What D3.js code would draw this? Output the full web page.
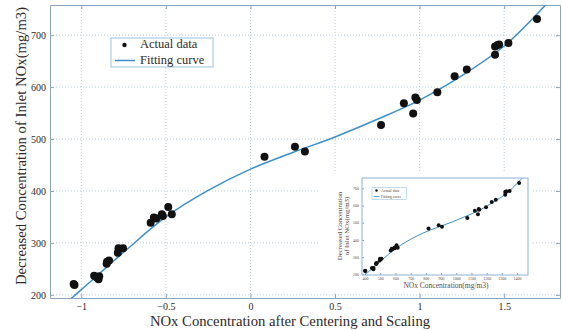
<!DOCTYPE html>
<html>
<head>
<meta charset="utf-8">
<script src="https://cdn.jsdelivr.net/npm/d3@7"></script>
<style>
  body { margin: 0; background: #fff; }
  svg { display: block; font-family: "Liberation Serif", "DejaVu Serif", serif; }
</style>
</head>
<body>
<svg id="chart" width="562" height="330"></svg>
<script>
// scaled NOx (x) vs decreased inlet NOx (y)
const scaledX = [-1.045, -1.04, -0.924, -0.894, -0.898, -0.91, -0.85, -0.848, -0.836,
  -0.784, -0.78, -0.753, -0.59, -0.571, -0.556, -0.524, -0.518, -0.486, -0.465,
  0.083, 0.263, 0.322, 0.772, 0.907, 0.962, 0.975, 0.984, 1.105, 1.207, 1.279,
  1.446, 1.446, 1.461, 1.47, 1.525, 1.694];
const decreasedNOx = [221, 219, 237, 236, 230, 234, 260, 264, 266,
  281, 290, 290, 339, 349, 347, 355, 352, 369, 355,
  466, 485, 476, 527, 569, 549, 580, 575, 590, 621, 634,
  662, 678, 681, 682, 685, 731];

// fitting curve
const curveX = [-1.06, -1.0, -0.75, -0.5, -0.25, 0, 0.25, 0.5, 0.75, 1.0, 1.25, 1.5, 1.75];
const curveY = [193, 210, 282, 350, 401, 442, 474, 504, 538, 575, 622, 679, 760];

const xTicks = [-1, -0.5, 0, 0.5, 1, 1.5];
const yTicks = [200, 300, 400, 500, 600, 700];

// inset uses raw concentration (mg/m3)
const noxMean = 787, noxStd = 370;
const insetXTicks = [400, 500, 600, 700, 800, 900, 1000, 1100, 1200, 1300, 1400];
const insetYTicks = [200, 300, 400, 500, 600, 700];

const svg = d3.select('#chart');
const frameColor = '#8da6bf';
const gridColor = '#bccfe0';
const textColor = '#2f2a2a';
const insetText = '#5a4a44';
const lineColor = '#3f90c9';

const pts = scaledX.map((x, i) => ({ x: x, y: decreasedNOx[i] }));
const fit = curveX.map((x, i) => ({ x: x, y: curveY[i] }));

// ---------- main plot ----------
const m = { left: 50, right: 560, top: 5, bottom: 298 };
const x = d3.scaleLinear().domain([-1.185, 1.83]).range([m.left, m.right]);
const y = d3.scaleLinear().domain([194, 758]).range([m.bottom, m.top]);

const defs = svg.append('defs');
defs.append('clipPath').attr('id', 'clipMain')
  .append('rect').attr('x', m.left).attr('y', m.top)
  .attr('width', m.right - m.left).attr('height', m.bottom - m.top);

const grid = svg.append('g');
grid.selectAll('.gx').data(xTicks).enter().append('line')
  .attr('x1', d => x(d)).attr('x2', d => x(d))
  .attr('y1', m.top).attr('y2', m.bottom)
  .attr('stroke', gridColor).attr('stroke-dasharray', '1,2');
grid.selectAll('.gy').data(yTicks).enter().append('line')
  .attr('x1', m.left).attr('x2', m.right)
  .attr('y1', d => y(d)).attr('y2', d => y(d))
  .attr('stroke', gridColor).attr('stroke-dasharray', '1,2');

// axes with inward ticks, box all round
const xAxis = svg.append('g').attr('transform', 'translate(0,' + m.bottom + ')')
  .call(d3.axisBottom(x).tickValues(xTicks).tickSizeInner(-4).tickSizeOuter(0).tickPadding(5)
    .tickFormat(d3.format('')));
const yAxis = svg.append('g').attr('transform', 'translate(' + m.left + ',0)')
  .call(d3.axisLeft(y).tickValues(yTicks).tickSizeInner(-4).tickSizeOuter(0).tickPadding(4));
const xTop = svg.append('g').attr('transform', 'translate(0,' + m.top + ')')
  .call(d3.axisTop(x).tickValues(xTicks).tickSizeInner(-4).tickSizeOuter(0).tickFormat(''));
const yRight = svg.append('g').attr('transform', 'translate(' + m.right + ',0)')
  .call(d3.axisRight(y).tickValues(yTicks).tickSizeInner(-4).tickSizeOuter(0).tickFormat(''));

[xAxis, yAxis, xTop, yRight].forEach(g => {
  g.select('.domain').attr('stroke', frameColor);
  g.selectAll('.tick line').attr('stroke', frameColor);
  g.selectAll('.tick text').attr('fill', textColor)
    .style('font-family', '"Liberation Serif", serif').style('font-size', '10px');
});

const line = d3.line().x(d => x(d.x)).y(d => y(d.y)).curve(d3.curveCatmullRom);
svg.append('path').datum(fit)
  .attr('clip-path', 'url(#clipMain)')
  .attr('d', line).attr('fill', 'none')
  .attr('stroke', lineColor).attr('stroke-width', 1.5);

svg.append('g').selectAll('circle').data(pts).enter().append('circle')
  .attr('cx', d => x(d.x)).attr('cy', d => y(d.y)).attr('r', 4)
  .attr('fill', '#111');

// titles
svg.append('text')
  .attr('x', 290).attr('y', 326).attr('text-anchor', 'middle')
  .attr('fill', textColor).style('font-size', '14.7px')
  .text('NOx Concentration after Centering and Scaling');
svg.append('text')
  .attr('transform', 'translate(26,146) rotate(-90)').attr('text-anchor', 'middle')
  .attr('fill', textColor).style('font-size', '14.7px')
  .text('Decreased Concentration of Inlet NOx(mg/m3)');

// legend
const leg = svg.append('g');
leg.append('rect').attr('x', 111).attr('y', 38).attr('width', 102).attr('height', 29)
  .attr('fill', '#fff').attr('stroke', '#9cc3de');
leg.append('circle').attr('cx', 124.5).attr('cy', 45).attr('r', 2.2).attr('fill', '#111');
leg.append('line').attr('x1', 115).attr('x2', 135).attr('y1', 60.5).attr('y2', 60.5)
  .attr('stroke', lineColor).attr('stroke-width', 1.5);
leg.append('text').attr('x', 140).attr('y', 48).attr('fill', textColor)
  .style('font-size', '12.5px').text('Actual data');
leg.append('text').attr('x', 140).attr('y', 64).attr('fill', textColor)
  .style('font-size', '12.5px').text('Fitting curve');

// ---------- inset ----------
const inset = svg.append('g');
inset.append('rect').attr('x', 318).attr('y', 172).attr('width', 213).attr('height', 120)
  .attr('fill', '#fff');

const im = { left: 362, right: 528, top: 178, bottom: 275 };
const ix = d3.scaleLinear().domain([380, 1472]).range([im.left, im.right]);
const iy = d3.scaleLinear().domain([196, 760]).range([im.bottom, im.top]);

defs.append('clipPath').attr('id', 'clipInset')
  .append('rect').attr('x', im.left).attr('y', im.top)
  .attr('width', im.right - im.left).attr('height', im.bottom - im.top);

const ixAxis = inset.append('g').attr('transform', 'translate(0,' + im.bottom + ')')
  .call(d3.axisBottom(ix).tickValues(insetXTicks).tickSizeInner(-2).tickSizeOuter(0).tickPadding(2)
    .tickFormat(d3.format('d')));
const iyAxis = inset.append('g').attr('transform', 'translate(' + im.left + ',0)')
  .call(d3.axisLeft(iy).tickValues(insetYTicks).tickSizeInner(-2).tickSizeOuter(0).tickPadding(3)
    .tickFormat(d3.format('d')));
[ixAxis, iyAxis].forEach(g => {
  g.select('.domain').remove();
  g.selectAll('.tick line').attr('stroke', frameColor);
  g.selectAll('.tick text').attr('fill', insetText)
    .style('font-family', '"Liberation Serif", serif').style('font-size', '4px');
});
inset.append('rect').attr('x', im.left).attr('y', im.top)
  .attr('width', im.right - im.left).attr('height', im.bottom - im.top)
  .attr('fill', 'none').attr('stroke', '#8fb3d2');

const iline = d3.line().x(d => ix(noxMean + noxStd * d.x)).y(d => iy(d.y)).curve(d3.curveCatmullRom);
inset.append('path').datum(fit)
  .attr('clip-path', 'url(#clipInset)')
  .attr('d', iline).attr('fill', 'none')
  .attr('stroke', lineColor).attr('stroke-width', 1);
inset.append('g').selectAll('circle').data(pts).enter().append('circle')
  .attr('cx', d => ix(noxMean + noxStd * d.x)).attr('cy', d => iy(d.y)).attr('r', 2)
  .attr('fill', '#111');

inset.append('text').attr('x', 446).attr('y', 288).attr('text-anchor', 'middle')
  .attr('fill', insetText).style('font-size', '7.5px').text('NOx Concentration(mg/m3)');
inset.append('text').attr('transform', 'translate(342,226) rotate(-90)')
  .attr('text-anchor', 'middle').attr('fill', insetText).style('font-size', '6.8px')
  .text('Decreased Concentration');
inset.append('text').attr('transform', 'translate(349,226) rotate(-90)')
  .attr('text-anchor', 'middle').attr('fill', insetText).style('font-size', '6.8px')
  .text('of Inlet NOx(mg/m3)');

const ileg = inset.append('g');
ileg.append('rect').attr('x', 372).attr('y', 187.5).attr('width', 34.5).attr('height', 12)
  .attr('fill', '#fff').attr('stroke', '#9cc3de').attr('stroke-width', 0.6);
ileg.append('circle').attr('cx', 376.5).attr('cy', 190.5).attr('r', 1.2).attr('fill', '#111');
ileg.append('line').attr('x1', 373.5).attr('x2', 379.5).attr('y1', 196.5).attr('y2', 196.5)
  .attr('stroke', lineColor).attr('stroke-width', 0.8);
ileg.append('text').attr('x', 381).attr('y', 192).attr('fill', insetText)
  .style('font-size', '4px').text('Actual data');
ileg.append('text').attr('x', 381).attr('y', 198).attr('fill', insetText)
  .style('font-size', '4px').text('Fitting curve');
</script>
</body>
</html>
